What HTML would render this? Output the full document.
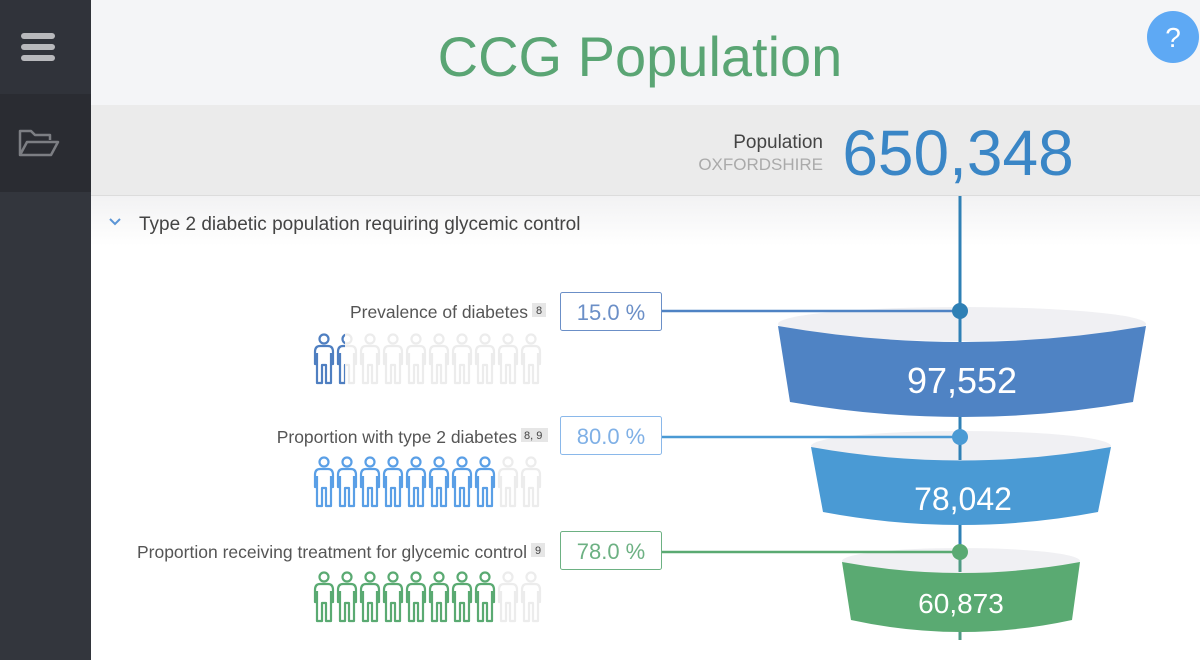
<!DOCTYPE html>
<html><head><meta charset="utf-8"><style>
html,body{margin:0;padding:0;width:1200px;height:660px;overflow:hidden;background:#fff;font-family:"Liberation Sans",sans-serif;}
</style></head><body>
<svg width="1200" height="660" viewBox="0 0 1200 660" xmlns="http://www.w3.org/2000/svg" font-family="Liberation Sans, sans-serif">
<defs>
<linearGradient id="sec" x1="0" y1="0" x2="0" y2="1"><stop offset="0" stop-color="#f2f2f3"/><stop offset="1" stop-color="#ffffff"/></linearGradient>
<g id="p" fill="none" stroke-width="2.2" stroke-linejoin="round">
<circle cx="0" cy="6" r="4.5"/>
<path d="M-2,50 V32 H2 V50 H7 V31 H9 V19 Q9,13 4,13 H-4 Q-9,13 -9,19 V31 H-7 V50 Z M-7,31 V20 M7,31 V20"/>
</g>
<clipPath id="half"><rect x="330" y="320" width="15" height="80"/></clipPath>
</defs>
<rect x="0" y="0" width="91" height="660" fill="#33363d"/>
<rect x="0" y="0" width="91" height="94" fill="#30333a"/>
<rect x="0" y="94" width="91" height="98" fill="#2a2c32"/>
<g fill="#b8b9bc"><rect x="21" y="33" width="34" height="6" rx="3"/><rect x="21" y="44" width="34" height="6" rx="3"/><rect x="21" y="55" width="34" height="6" rx="3"/></g>
<path d="M20,155 V131 H31 L35,135 H50 V140 M20,155 L27,142 H58 L51,155 Z" fill="none" stroke="#7c7e83" stroke-width="2.5" stroke-linejoin="round"/>
<rect x="91" y="0" width="1109" height="105" fill="#f4f5f7"/>
<text x="640" y="76" text-anchor="middle" font-size="56" fill="#5aa574">CCG Population</text>
<circle cx="1173" cy="37" r="26" fill="#5ea9f4"/>
<text x="1173" y="47" text-anchor="middle" font-size="28" fill="#fff">?</text>
<rect x="91" y="105" width="1109" height="90" fill="#ebebeb"/>
<line x1="91" y1="195.5" x2="1200" y2="195.5" stroke="#dcdcdc"/>
<rect x="91" y="196" width="1109" height="50" fill="url(#sec)"/>
<text x="823" y="148" text-anchor="end" font-size="19" fill="#444">Population</text>
<text x="823" y="170" text-anchor="end" font-size="17" fill="#aaa">OXFORDSHIRE</text>
<text x="958" y="175" text-anchor="middle" font-size="64" fill="#3a86c6">650,348</text>
<path d="M110,219 L115,224 L120,219" fill="none" stroke="#5b95d6" stroke-width="2"/>
<text x="139" y="230" font-size="19" fill="#444">Type 2 diabetic population requiring glycemic control</text>
<line x1="960" y1="196" x2="960" y2="545" stroke="#2f80b5" stroke-width="3"/>
<line x1="960" y1="545" x2="960" y2="640" stroke="#4f9a83" stroke-width="3"/>
<ellipse cx="962" cy="324" rx="184" ry="17" fill="#f0f0f3"/>
<line x1="960" y1="311" x2="960" y2="342" stroke="#2f80b5" stroke-width="3"/>
<path d="M778,326 Q962,358 1146,326 L1133,402 Q962,432 790,402 Z" fill="#4f83c4"/>
<text x="962" y="393" text-anchor="middle" font-size="36" fill="#fff">97,552</text>
<ellipse cx="961" cy="446" rx="150" ry="15" fill="#f0f0f3"/>
<line x1="960" y1="437" x2="960" y2="460" stroke="#2f80b5" stroke-width="3"/>
<path d="M811,447 Q961,474 1111,447 L1098,512 Q961,538 823,512 Z" fill="#4a9ad4"/>
<text x="963" y="510" text-anchor="middle" font-size="32" fill="#fff">78,042</text>
<ellipse cx="961" cy="561" rx="119" ry="13" fill="#f0f0f3"/>
<line x1="960" y1="552" x2="960" y2="572" stroke="#4f9a83" stroke-width="3"/>
<path d="M842,562 Q961,584 1080,562 L1072,620 Q961,644 851,620 Z" fill="#5aaa72"/>
<text x="961" y="613" text-anchor="middle" font-size="28" fill="#fff">60,873</text>
<g stroke-width="2.5"><line x1="662" y1="311" x2="960" y2="311" stroke="#4f83c4"/><line x1="662" y1="437" x2="960" y2="437" stroke="#4a9ad4"/><line x1="662" y1="552" x2="960" y2="552" stroke="#5aaa72"/></g>
<circle cx="960" cy="311" r="8" fill="#2f80b5"/><circle cx="960" cy="437" r="8" fill="#4a9ad4"/><circle cx="960" cy="552" r="8" fill="#5aaa72"/>
<rect x="560.5" y="292.5" width="101" height="38" rx="2" fill="#fff" stroke="#6b8fc7"/>
<text x="611" y="320" text-anchor="middle" font-size="22" fill="#6b8fc7">15.0 %</text>
<rect x="560.5" y="416.5" width="101" height="38" rx="2" fill="#fff" stroke="#8ab8ea"/>
<text x="611" y="444" text-anchor="middle" font-size="22" fill="#7fb0e6">80.0 %</text>
<rect x="560.5" y="531.5" width="101" height="38" rx="2" fill="#fff" stroke="#6db183"/>
<text x="611" y="559" text-anchor="middle" font-size="22" fill="#6db183">78.0 %</text>
<g font-size="17.5" fill="#555" text-anchor="end">
<text x="528" y="318">Prevalence of diabetes</text>
<text x="517" y="443">Proportion with type 2 diabetes</text>
<text x="527" y="558">Proportion receiving treatment for glycemic control</text>
</g>
<g font-size="11" fill="#444">
<rect x="532" y="303" width="14" height="14" fill="#e6e6e6"/><text x="536" y="314">8</text>
<rect x="521" y="428" width="27" height="14" fill="#e6e6e6"/><text x="524" y="439">8, 9</text>
<rect x="531" y="543" width="14" height="14" fill="#e6e6e6"/><text x="535" y="554">9</text>
</g>
<g stroke="#ececec">
<use href="#p" x="347" y="333"/><use href="#p" x="370" y="333"/><use href="#p" x="393" y="333"/><use href="#p" x="416" y="333"/><use href="#p" x="439" y="333"/><use href="#p" x="462" y="333"/><use href="#p" x="485" y="333"/><use href="#p" x="508" y="333"/><use href="#p" x="531" y="333"/>
<use href="#p" x="508" y="456"/><use href="#p" x="531" y="456"/>
<use href="#p" x="508" y="571"/><use href="#p" x="531" y="571"/>
</g>
<g stroke="#4f7fc1"><use href="#p" x="324" y="333"/><g clip-path="url(#half)"><use href="#p" x="347" y="333"/></g></g>
<g stroke="#5a9fe6"><use href="#p" x="324" y="456"/><use href="#p" x="347" y="456"/><use href="#p" x="370" y="456"/><use href="#p" x="393" y="456"/><use href="#p" x="416" y="456"/><use href="#p" x="439" y="456"/><use href="#p" x="462" y="456"/><use href="#p" x="485" y="456"/></g>
<g stroke="#5aaa72"><use href="#p" x="324" y="571"/><use href="#p" x="347" y="571"/><use href="#p" x="370" y="571"/><use href="#p" x="393" y="571"/><use href="#p" x="416" y="571"/><use href="#p" x="439" y="571"/><use href="#p" x="462" y="571"/><use href="#p" x="485" y="571"/></g>
</svg>
</body></html>
